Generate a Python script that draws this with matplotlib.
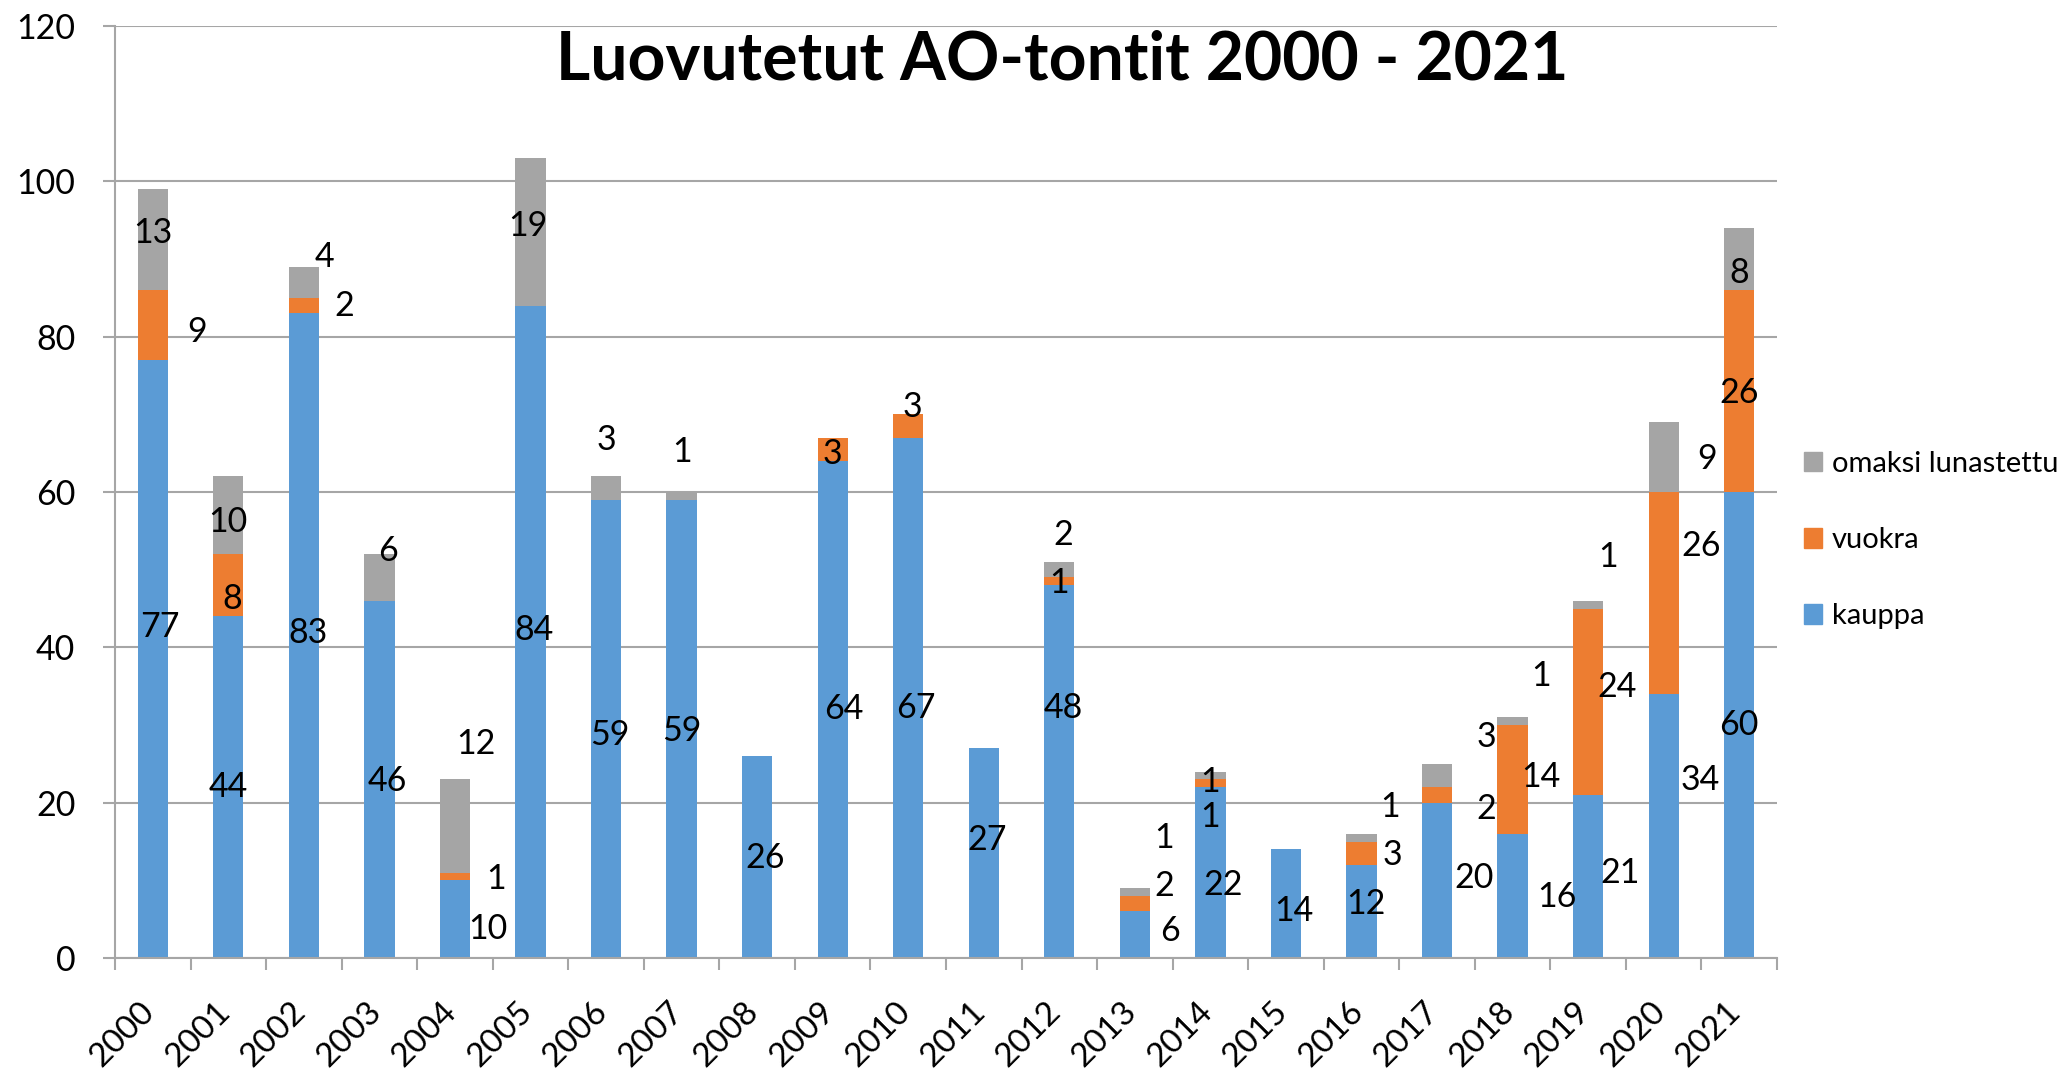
import matplotlib
matplotlib.use('Agg')
import matplotlib.pyplot as plt
import numpy as np
from matplotlib.patches import Patch
from matplotlib.transforms import ScaledTranslation

plt.rcParams['font.family'] = ['Lato', 'DejaVu Sans']

# ---- data ----
years = [str(y) for y in range(2000, 2022)]
kauppa = [77, 44, 83, 46, 10, 84, 59, 59, 26, 64, 67, 27, 48, 6, 22, 14, 12, 20, 16, 21, 34, 60]
vuokra = [9, 8, 2, 0, 1, 0, 0, 0, 0, 3, 3, 0, 1, 2, 1, 0, 3, 2, 14, 24, 26, 26]
omaksi = [13, 10, 4, 6, 12, 19, 3, 1, 0, 0, 0, 0, 2, 1, 1, 0, 1, 3, 1, 1, 9, 8]
series_names = ['kauppa', 'vuokra', 'omaksi lunastettu']
title = 'Luovutetut AO-tontit 2000 - 2021'

# ---- layout: label offsets from segment centre (dx in categories, dy in data units) ----
kauppa_dx = [0.1, 0, 0.05, 0.1, 0.44, 0.05, 0.05, 0, 0.1, 0.15, 0.1, 0.05, 0.05, 0.47, 0.17, 0.11, 0.06, 0.49, 0.59, 0.42, 0.49, 0]
kauppa_dy = [4.1, 0, 0.3, -0.2, -1.3, 0.2, -0.8, -0.3, -0.1, 0, -1.3, 1.7, 8.2, 0.5, -1.6, -1, 1, 0.3, -0.2, 0.5, 5.9, 0]
vuokra_dx = [0.585, 0.05, 0.54, 0, 0.54, 0, 0, 0, 0, 0, 0.06, 0, 0, 0.39, 0, 0, 0.41, 0.65, 0.37, 0.38, 0.49, 0]
vuokra_dy = [-0.9, -1.8, -0.1, 0, -0.3, 0, 0, 0, 0, -0.6, 2.4, 0, -0.2, 2.3, -4.3, 0, -0.3, -1.8, 0.3, 1.9, 6, -0.3]
omaksi_dx = [0, 0, 0.27, 0.11, 0.28, -0.04, 0, 0, 0, 0, 0, 0, 0.05, 0.39, 0, 0, 0.38, 0.65, 0.37, 0.26, 0.57, 0]
omaksi_dy = [0.8, -0.9, 3.2, 3.4, 10.5, 0.8, 6.2, 5.7, 0, 0, 0, 0, 4.5, 6.9, -0.8, 0, 3.9, 4.9, 5.8, 6.1, -0.2, -1.8]

colors = ['#5B9BD5', '#ED7D31', '#A5A5A5']
grid_color = '#A6A6A6'

W, H = 2069, 1070
fig = plt.figure(figsize=(W / 100, H / 100), dpi=100)
ax = fig.add_axes([115 / W, 1 - 958 / H, (1777 - 115) / W, (958 - 26) / H])

x = np.arange(len(years))
bw = 0.40
k = np.array(kauppa, float)
v = np.array(vuokra, float)
o = np.array(omaksi, float)
ax.bar(x, k, bw, color=colors[0], zorder=2)
ax.bar(x, v, bw, bottom=k, color=colors[1], zorder=2)
ax.bar(x, o, bw, bottom=k + v, color=colors[2], zorder=2)

# data labels
lab_fs = 24.5
for vals, base, dxs, dys in [(k, np.zeros_like(k), kauppa_dx, kauppa_dy),
                             (v, k, vuokra_dx, vuokra_dy),
                             (o, k + v, omaksi_dx, omaksi_dy)]:
    for i, val in enumerate(vals):
        if val <= 0:
            continue
        ax.text(i + dxs[i], base[i] + val / 2 + dys[i], f'{int(val)}',
                ha='center', va='center', fontsize=lab_fs, color='black', zorder=3)

ax.set_xlim(-0.5, len(years) - 0.5)
ax.set_ylim(0, 120)
ax.set_yticks(np.arange(0, 121, 20))
ax.yaxis.grid(True, color=grid_color, lw=1.5, zorder=0)
ax.set_axisbelow(True)

for s in ['top', 'right']:
    ax.spines[s].set_visible(False)
for s in ['left', 'bottom']:
    ax.spines[s].set_color(grid_color)
    ax.spines[s].set_linewidth(1.5)

ax.tick_params(axis='y', length=8.6, width=1.5, color=grid_color, pad=20,
               labelsize=24.5, labelcolor='black')

ax.set_xticks(x)
ax.set_xticklabels(years)
ax.set_xticks(np.arange(-0.5, len(years), 1), minor=True)
ax.tick_params(axis='x', which='major', length=0, pad=35, labelsize=24, labelcolor='black')
ax.tick_params(axis='x', which='minor', length=8.6, width=1.5, color=grid_color)
shift = ScaledTranslation(-3 / 100, 0, fig.dpi_scale_trans)
for lbl in ax.get_xticklabels():
    lbl.set_rotation(45)
    lbl.set_ha('right')
    lbl.set_va('center')
    lbl.set_rotation_mode('anchor')
    lbl.set_transform(lbl.get_transform() + shift)

# title
fig.text(1062 / W, 1 - 79 / H, title, ha='center', va='baseline',
         fontsize=47.5, fontweight='bold', color='black')

# legend (top to bottom: omaksi, vuokra, kauppa)
handles = [Patch(color=colors[2]), Patch(color=colors[1]), Patch(color=colors[0])]
labels = [series_names[2], series_names[1], series_names[0]]
fig.legend(handles, labels, loc='upper left', bbox_to_anchor=(1804 / W, 1 - 451 / H),
           frameon=False, fontsize=21, handlelength=0.6, handleheight=0.65,
           handletextpad=0.35, labelspacing=1.72, borderpad=0, borderaxespad=0)

fig.savefig('out.png', dpi=100)
